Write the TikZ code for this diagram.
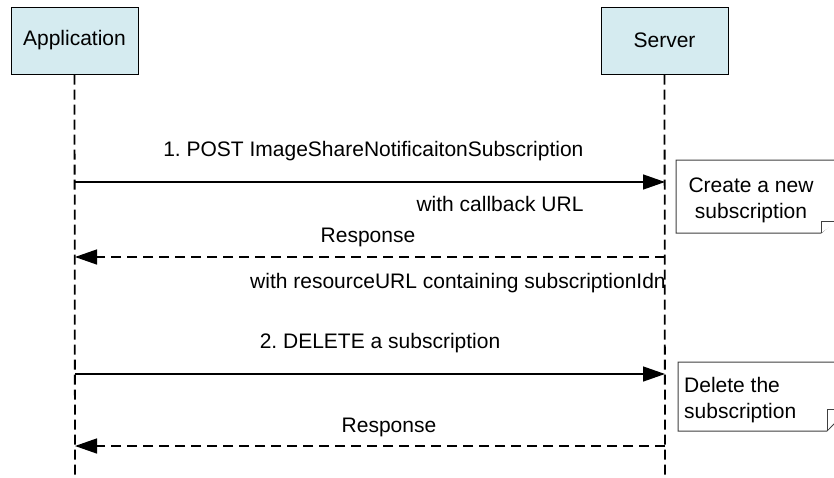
\documentclass[tikz,border=0pt]{standalone}
\usepackage{fontspec}
\setmainfont{Liberation Sans}
\usetikzlibrary{arrows.meta}
\definecolor{actorblue}{RGB}{213,235,240}
\frenchspacing

\begin{document}
\begin{tikzpicture}[x=1pt, y=-1pt,
    every node/.style={font=\fontsize{21}{26}\selectfont},
    actor/.style={draw, fill=actorblue, line width=1pt, minimum width=127pt, minimum height=67pt, inner sep=0pt},
    lifeline/.style={line width=1.8pt, dash pattern=on 10pt off 5pt},
    call/.style={line width=1.4pt, -{Triangle[length=22pt,width=15pt]}},
    reply/.style={line width=1.4pt, dash pattern=on 10pt off 6pt, -{Triangle[length=22pt,width=15pt]}},
    notebox/.style={draw=black!75, line width=1pt, fill=white}]
\useasboundingbox (0,0) rectangle (834,477);
% Draw participants
\node[actor] (app) at (74.5,40.5) {Application};
\node[actor] (srv) at (664.5,40.5) {Server};
% Draw lifelines
\coordinate (append) at (75,477);
\coordinate (srvend) at (665,477);
\draw[lifeline] (app.south) -- (append);
\draw[lifeline] (srv.south) -- (srvend);
% Message end points
\coordinate (post1) at (75,182);   \coordinate (post2) at (665,182);
\coordinate (resp1) at (665,257);  \coordinate (resp2) at (75,257);
\coordinate (del1) at (75,374);    \coordinate (del2) at (665,374);
\coordinate (resp3) at (665,446);  \coordinate (resp4) at (75,446);
% Draw messages
\draw[call] (post1) -- (post2);
\draw[reply] (resp1) -- (resp2);
\draw[call] (del1) -- (del2);
\draw[reply] (resp3) -- (resp4);
% Message labels
\node[anchor=east] (postlbl) at (587,151) {1. POST ImageShareNotificaitonSubscription};
\node[anchor=east] (cblbl) at (587,204) {with callback URL};
\node (resplbl) at (368,237) {Response};
\node[anchor=west, inner sep=0pt] (reslbl) at (250,283) {with resourceURL containing subscriptionIdn};
\node (dellbl) at (380,343) {2. DELETE a subscription};
\node (resplbl2) at (389,427) {Response};
% Draw notes
\draw[notebox] (676,160) -- (838,160) -- (838,218) -- (821,233) -- (676,233) -- cycle;
\draw[notebox] (821,233) -- (821,221) -- (838,221);
\node[align=center] (note1) at (751,200) {Create a new\\subscription};
\draw[notebox] (678,362) -- (842,362) -- (842,416) -- (827,431) -- (678,431) -- cycle;
\draw[notebox] (827,431) -- (827,409) -- (842,409);
\node[align=left, anchor=west, inner sep=0pt] (note2) at (684,400) {Delete the\\subscription};
\end{tikzpicture}
\end{document}
